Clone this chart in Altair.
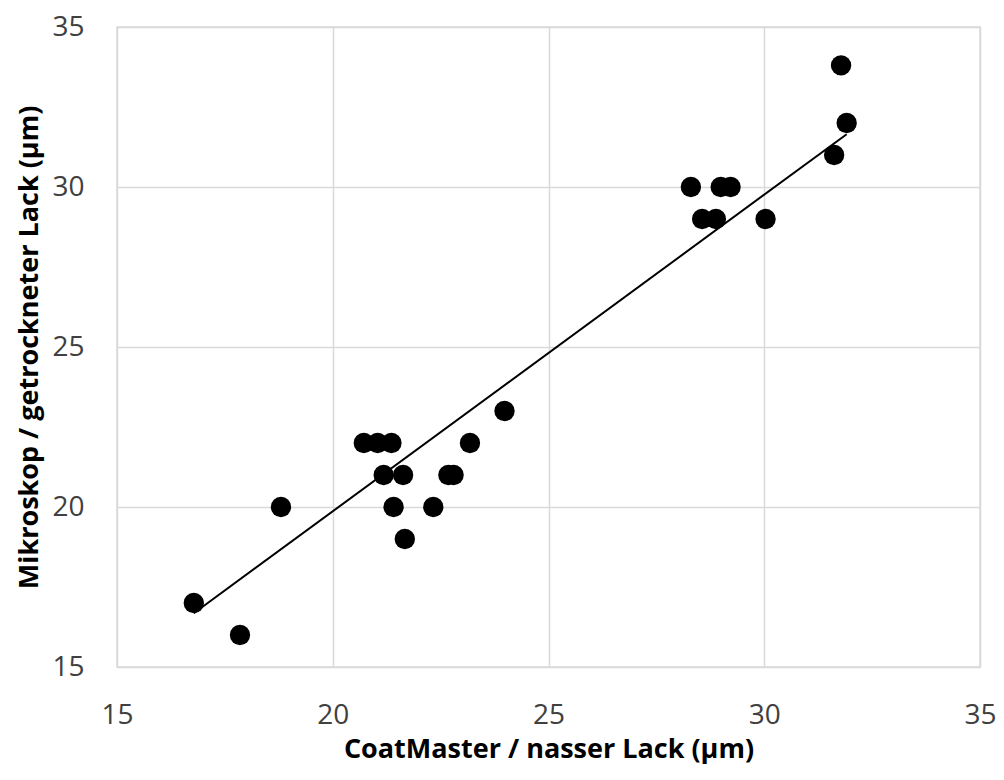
import altair as alt
import pandas as pd

coatmaster = [16.78, 17.85, 18.80, 20.72, 21.04, 21.36, 21.18, 21.63, 21.41, 21.67,
              22.33, 22.68, 22.80, 23.18, 23.98, 31.78, 31.91, 31.62, 28.30, 28.99,
              29.22, 28.56, 28.88, 30.03]
mikroskop = [17, 16, 20, 22, 22, 22, 21, 21, 20, 19,
             20, 21, 21, 22, 23, 33.8, 32, 31, 30, 30,
             30, 29, 29, 29]

# trend line endpoints
trend_x = [16.78, 31.91]
trend_y = [16.68, 31.65]

df = pd.DataFrame({"x": coatmaster, "y": mikroskop})
df_trend = pd.DataFrame({"x": trend_x, "y": trend_y})

FONT = "Open Sans"

xenc = alt.X("x:Q", scale=alt.Scale(domain=[15, 35], nice=False, zero=False),
             axis=alt.Axis(values=[15, 20, 25, 30, 35], title="CoatMaster / nasser Lack (µm)",
                           grid=True, gridColor="#d9d9d9", gridWidth=1.5, domain=False, ticks=False,
                           labelPadding=34, labelFontSize=28, labelFont=FONT, labelColor="#404040",
                           titleFont=FONT, titleFontSize=27, titleFontWeight="bold", titleColor="#000000",
                           titlePadding=7, labelFlush=False))
yenc = alt.Y("y:Q", scale=alt.Scale(domain=[15, 35], nice=False, zero=False),
             axis=alt.Axis(values=[15, 20, 25, 30, 35], title="Mikroskop / getrockneter Lack (µm)",
                           grid=True, gridColor="#d9d9d9", gridWidth=1.5, domain=False, ticks=False,
                           labelPadding=33, labelFontSize=28, labelFont=FONT, labelColor="#404040",
                           titleFont=FONT, titleFontSize=27, titleFontWeight="bold", titleColor="#000000",
                           titlePadding=8, labelFlush=False))

points = alt.Chart(df).mark_circle(size=415, color="#000000", opacity=1).encode(x=xenc, y=yenc)

trend = alt.Chart(df_trend).mark_line(color="#000000", strokeWidth=2).encode(
    x="x:Q", y="y:Q")

chart = (trend + points).properties(
    width=863, height=640,
    autosize=alt.AutoSizeParams(type="none"),
    padding={"left": 109, "top": 19, "right": 16, "bottom": 98},
).configure_view(stroke="#d9d9d9", strokeWidth=1.5)

chart.save("out.html", embed_options={"renderer": "svg", "actions": False})
